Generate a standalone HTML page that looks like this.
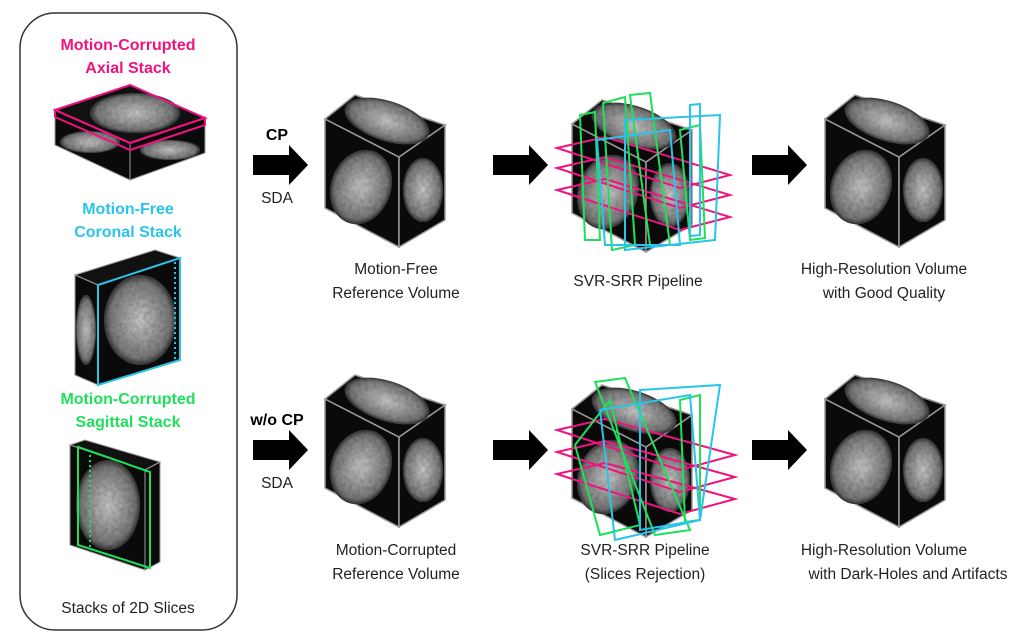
<!DOCTYPE html>
<html><head><meta charset="utf-8"><style>
body{margin:0;background:#fff;}
svg{display:block;font-family:"Liberation Sans",sans-serif;}
.t{font-size:15.5px;fill:#222;text-anchor:middle;}
.b{font-size:16px;font-weight:bold;text-anchor:middle;}
</style></head><body>
<svg width="1025" height="644" viewBox="0 0 1025 644">
<defs>
<radialGradient id="br" cx="50%" cy="50%" r="50%">
<stop offset="0" stop-color="#c8c8c8"/><stop offset="0.5" stop-color="#999"/><stop offset="0.85" stop-color="#777"/><stop offset="1" stop-color="#333"/>
</radialGradient>
<filter id="tx" x="0" y="0" width="1" height="1">
<feTurbulence type="fractalNoise" baseFrequency="0.25" numOctaves="2" result="n"/>
<feColorMatrix in="n" type="matrix" values="0 0 0 0 0.5  0 0 0 0 0.5  0 0 0 0 0.5  0 0 0 1.2 -0.3" result="m"/>
<feComposite in="m" in2="SourceGraphic" operator="in" result="c"/>
<feBlend in="SourceGraphic" in2="c" mode="multiply"/>
</filter>
<g id="cube">
<polygon points="0,24 74,62 74,152 0,113" fill="#0a0a0a" stroke="#999" stroke-width="1.5"/>
<polygon points="74,62 120,30 120,125 74,152" fill="#0a0a0a" stroke="#999" stroke-width="1.5"/>
<polygon points="0,24 30,0 120,30 74,62" fill="#0a0a0a" stroke="#999" stroke-width="1.5"/>
<g filter="url(#tx)">
<ellipse cx="36" cy="92" rx="30" ry="38" fill="url(#br)" transform="rotate(20 36 92)"/>
<ellipse cx="98" cy="95" rx="20" ry="32" fill="url(#br)"/>
<ellipse cx="62" cy="26" rx="44" ry="20" fill="url(#br)" transform="rotate(18 62 26)"/>
</g>
</g>
<polygon id="arr" points="0,10 36,10 36,0 55,20 36,40 36,30 0,30" fill="#000"/>
</defs>

<rect x="20" y="13" width="217" height="617" rx="35" fill="none" stroke="#333" stroke-width="1.5"/>
<text class="b" x="128" y="50" fill="#f0127f">Motion-Corrupted</text>
<text class="b" x="128" y="73" fill="#f0127f">Axial Stack</text>
<text class="b" x="128" y="214" fill="#29c4e8">Motion-Free</text>
<text class="b" x="128" y="237" fill="#29c4e8">Coronal Stack</text>
<text class="b" x="128" y="404" fill="#1fe05a">Motion-Corrupted</text>
<text class="b" x="128" y="427" fill="#1fe05a">Sagittal Stack</text>
<text class="t" x="128" y="613">Stacks of 2D Slices</text>

<g>
<polygon points="55,110 130,85 205,118 130,143" fill="#111" stroke="#999"/>
<polygon points="55,110 130,143 130,180 55,145" fill="#0a0a0a" stroke="#999"/>
<polygon points="130,143 205,118 205,153 130,180" fill="#0a0a0a" stroke="#999"/>
<g filter="url(#tx)">
<ellipse cx="135" cy="113" rx="45" ry="20" fill="url(#br)"/>
<ellipse cx="90" cy="142" rx="30" ry="11" fill="url(#br)"/>
<ellipse cx="170" cy="150" rx="30" ry="10" fill="url(#br)"/>
</g>
<polygon points="55,110 130,85 205,118 130,143" fill="none" stroke="#f0127f" stroke-width="2"/>
<polygon points="55,110 130,143 205,118 205,125 130,150 55,117" fill="none" stroke="#f0127f" stroke-width="2"/>
</g>
<g>
<polygon points="75,275 155,250 180,258 98,285" fill="#111" stroke="#999"/>
<polygon points="75,275 98,285 98,385 75,375" fill="#0a0a0a" stroke="#999"/>
<polygon points="98,285 180,258 180,360 98,385" fill="#0a0a0a" stroke="#999"/>
<g filter="url(#tx)">
<ellipse cx="140" cy="320" rx="36" ry="45" fill="url(#br)"/>
<ellipse cx="86" cy="330" rx="10" ry="35" fill="url(#br)"/>
</g>
<polygon points="98,285 180,258 180,360 98,385" fill="none" stroke="#29c4e8" stroke-width="2"/>
<line x1="175" y1="262" x2="175" y2="360" stroke="#29c4e8" stroke-width="2" stroke-dasharray="2,3"/>
</g>
<g>
<polygon points="70,445 145,470 160,462 85,440" fill="#111" stroke="#999"/>
<polygon points="70,445 145,470 145,570 70,545" fill="#0a0a0a" stroke="#999"/>
<polygon points="145,470 160,462 160,562 145,570" fill="#0a0a0a" stroke="#999"/>
<g filter="url(#tx)"><ellipse cx="108" cy="505" rx="32" ry="45" fill="url(#br)"/></g>
<polygon points="78,447 150,472 150,568 78,545" fill="none" stroke="#1fe05a" stroke-width="2"/>
<line x1="90" y1="455" x2="90" y2="548" stroke="#1fe05a" stroke-width="2" stroke-dasharray="2,3"/>
</g>

<text class="b" x="277" y="140" fill="#000">CP</text>
<use href="#arr" x="253" y="145"/>
<text class="t" x="277" y="203">SDA</text>
<use href="#cube" x="325" y="95"/>
<text class="t" x="396" y="274">Motion-Free</text>
<text class="t" x="396" y="298">Reference Volume</text>
<use href="#arr" x="493" y="145"/>
<use href="#cube" x="572" y="100"/>
<g fill="none" stroke-width="2">
<polygon points="557,148 605,137 730,175 680,188" stroke="#f0127f"/>
<polygon points="557,168 605,157 730,195 680,208" stroke="#f0127f"/>
<polygon points="557,190 605,179 730,217 680,230" stroke="#f0127f"/>
<polygon points="580,115 595,112 600,240 585,240" stroke="#1fe05a"/>
<polygon points="603,103 625,97 635,245 612,250" stroke="#1fe05a"/>
<polygon points="630,95 650,93 670,245 650,245" stroke="#1fe05a"/>
<polygon points="680,130 700,125 705,238 690,240" stroke="#1fe05a"/>
<polygon points="597,140 670,130 680,245 605,245" stroke="#29c4e8"/>
<polygon points="625,120 720,115 715,240 625,250" stroke="#29c4e8"/>
<polygon points="690,105 700,104 700,235 690,236" stroke="#29c4e8"/>
</g>
<text class="t" x="638" y="286">SVR-SRR Pipeline</text>
<use href="#arr" x="752" y="145"/>
<use href="#cube" x="825" y="95"/>
<text class="t" x="884" y="274">High-Resolution Volume</text>
<text class="t" x="884" y="298">with Good Quality</text>

<text class="b" x="277" y="425" fill="#000">w/o CP</text>
<use href="#arr" x="253" y="430"/>
<text class="t" x="277" y="488">SDA</text>
<use href="#cube" x="325" y="375"/>
<text class="t" x="396" y="555">Motion-Corrupted</text>
<text class="t" x="396" y="579">Reference Volume</text>
<use href="#arr" x="493" y="430"/>
<use href="#cube" x="572" y="385"/>
<g fill="none" stroke-width="2">
<polygon points="557,430 605,419 735,455 680,470" stroke="#f0127f"/>
<polygon points="557,452 605,441 735,477 680,492" stroke="#f0127f"/>
<polygon points="557,474 605,463 735,499 680,514" stroke="#f0127f"/>
<polygon points="595,382 625,378 690,530 655,535" stroke="#1fe05a"/>
<polygon points="575,445 610,400 640,525 600,535" stroke="#1fe05a"/>
<polygon points="680,400 700,395 700,520 685,522" stroke="#1fe05a"/>
<polygon points="600,410 690,395 700,520 615,540" stroke="#29c4e8"/>
<polygon points="640,390 720,385 700,520 640,530" stroke="#29c4e8"/>
</g>
<text class="t" x="645" y="555">SVR-SRR Pipeline</text>
<text class="t" x="645" y="579">(Slices Rejection)</text>
<use href="#arr" x="752" y="430"/>
<use href="#cube" x="825" y="375"/>
<text class="t" x="884" y="555">High-Resolution Volume</text>
<text class="t" x="908" y="579">with Dark-Holes and Artifacts</text>
</svg>
</body></html>
